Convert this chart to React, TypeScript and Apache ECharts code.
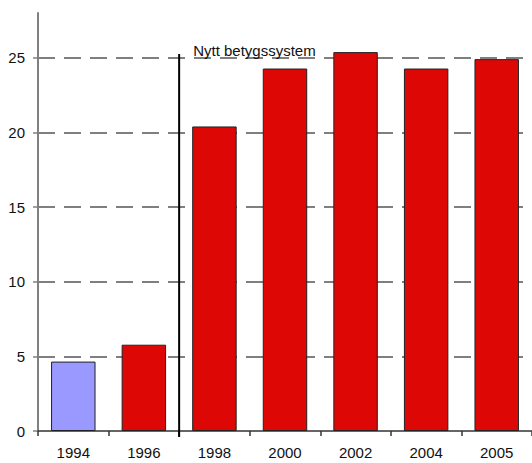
import React, { useEffect, useRef } from "react";
import * as echarts from "echarts";

const categories = ["1994", "1996", "1998", "2000", "2002", "2004", "2005"];
const values = [4.65, 5.78, 20.4, 24.28, 25.38, 24.28, 24.91];
const barColors = ["#9999FF", "#DD0806", "#DD0806", "#DD0806", "#DD0806", "#DD0806", "#DD0806"];
const yTicks = { min: 0, max: 28, interval: 5 };
const dividerAfter = "1996";
const dividerBefore = "1998";
const dividerTop = 25.25;
const dividerLabel = "Nytt betygssystem";

const FONT = "'Liberation Sans Narrow', 'Arial Narrow', 'Liberation Sans', Arial, sans-serif";

export default function App() {
  const ref = useRef<HTMLDivElement>(null);
  useEffect(() => {
    document.body.style.margin = "0";
    const chart = echarts.init(ref.current!, null, { renderer: "svg" });
    chart.setOption({
      animation: false,
      grid: { left: 38, right: -7, top: 13, bottom: 32 },
      xAxis: {
        type: "category",
        data: categories,
        axisLine: { lineStyle: { color: "#333", width: 1.5 } },
        axisTick: { show: true, length: 5, lineStyle: { color: "#333", width: 1.5 } },
        axisLabel: { color: "#111", fontSize: 15, fontFamily: FONT, margin: 14 },
      },
      yAxis: {
        type: "value",
        min: yTicks.min,
        max: yTicks.max,
        interval: yTicks.interval,
        axisLine: { show: true, lineStyle: { color: "#808080", width: 2 } },
        axisTick: { show: true, length: 5, lineStyle: { color: "#808080", width: 1.5 } },
        axisLabel: { color: "#111", fontSize: 15, fontFamily: FONT, margin: 13, showMaxLabel: false },
        splitLine: {
          show: true,
          showMinLine: false,
          showMaxLine: false,
          lineStyle: { color: "#555", width: 1.5, type: [17, 9] },
        },
      },
      series: [
        {
          type: "bar",
          barWidth: "63%",
          data: values.map((v, i) => ({
            value: v,
            itemStyle: { color: barColors[i], borderColor: "#222", borderWidth: 1 },
          })),
        },
      ],
    });
    const x1 = chart.convertToPixel({ xAxisIndex: 0 }, dividerAfter) as number;
    const x2 = chart.convertToPixel({ xAxisIndex: 0 }, dividerBefore) as number;
    const xm = (x1 + x2) / 2;
    const yTop = chart.convertToPixel({ yAxisIndex: 0 }, dividerTop) as number;
    const y0 = chart.convertToPixel({ yAxisIndex: 0 }, 0) as number;
    chart.setOption({
      graphic: [
        {
          type: "line",
          shape: { x1: xm, y1: yTop, x2: xm, y2: y0 + 6 },
          style: { stroke: "#000", lineWidth: 2 },
          z: 100,
        },
        {
          type: "text",
          x: xm + 14,
          y: yTop + 4,
          style: {
            text: dividerLabel,
            fill: "#111",
            font: `15px ${FONT}`,
            textVerticalAlign: "bottom",
            verticalAlign: "bottom",
          },
          z: 100,
        },
      ],
    });
    return () => chart.dispose();
  }, []);
  return <div ref={ref} style={{ width: 532, height: 463 }} />;
}
